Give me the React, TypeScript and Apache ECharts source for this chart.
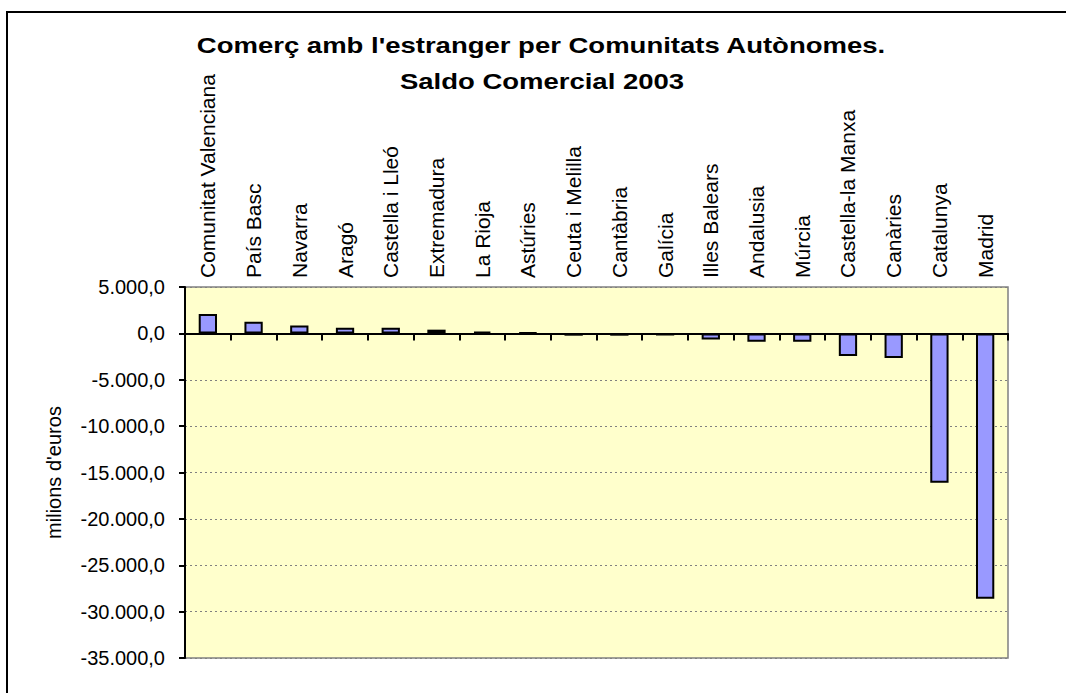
import React, { useEffect, useRef } from "react";
import * as echarts from "echarts";

const categories = [
  "Comunitat Valenciana",
  "País Basc",
  "Navarra",
  "Aragó",
  "Castella i Lleó",
  "Extremadura",
  "La Rioja",
  "Astúries",
  "Ceuta i Melilla",
  "Cantàbria",
  "Galícia",
  "Illes Balears",
  "Andalusia",
  "Múrcia",
  "Castella-la Manxa",
  "Canàries",
  "Catalunya",
  "Madrid",
];

const saldo = [
  2100, 1260, 860, 610, 600, 400, 200, 80, -250, -250, -230, -650, -900, -900,
  -2450, -2650, -16100, -28600,
];

const yTicks = [5000, 0, -5000, -10000, -15000, -20000, -25000, -30000, -35000];

const titleLines = [
  "Comerç amb l'estranger per Comunitats Autònomes.",
  "Saldo Comercial 2003",
];

const yAxisName = "milions d'euros";

function fmt(v: number): string {
  const s = Math.abs(v)
    .toString()
    .replace(/\B(?=(\d{3})+(?!\d))/g, ".");
  return (v < 0 ? "-" : "") + s + ",0";
}

export default function App() {
  const ref = useRef<HTMLDivElement>(null);

  useEffect(() => {
    if (!ref.current) return;
    const chart = echarts.init(ref.current, null, { renderer: "svg" });
    const font = "'Liberation Sans', Arial, sans-serif";
    const yMax = Math.max(...yTicks);
    const yMin = Math.min(...yTicks);
    const step = yTicks[0] - yTicks[1];

    chart.setOption({
      animation: false,
      backgroundColor: "#ffffff",
      graphic: [
        {
          type: "rect",
          shape: { x: 7, y: 12, width: 1100, height: 720 },
          style: { fill: "none", stroke: "#000000", lineWidth: 2 },
          silent: true,
          z: 0,
        },
        {
          type: "text",
          x: 541,
          y: 45,
          scaleX: 1.25,
          style: {
            text: titleLines[0],
            font: "bold 22px " + font,
            fill: "#000000",
            textAlign: "center",
            textVerticalAlign: "middle",
          },
          z: 10,
        },
        {
          type: "text",
          x: 542,
          y: 81,
          scaleX: 1.25,
          style: {
            text: titleLines[1],
            font: "bold 22px " + font,
            fill: "#000000",
            textAlign: "center",
            textVerticalAlign: "middle",
          },
          z: 10,
        },
      ],
      grid: {
        left: 185,
        right: 58,
        top: 287,
        bottom: 35,
        show: true,
        backgroundColor: "#FFFFCC",
        borderColor: "#808080",
        borderWidth: 1.5,
        containLabel: false,
      },
      xAxis: [
        {
          type: "category",
          data: categories,
          position: "bottom",
          boundaryGap: true,
          axisLine: {
            show: true,
            onZero: true,
            lineStyle: { color: "#000000", width: 2 },
          },
          axisTick: {
            show: true,
            interval: 0,
            length: 7,
            lineStyle: { color: "#000000", width: 2 },
          },
          axisLabel: { show: false, interval: 0 },
          splitLine: { show: false },
          z: 5,
        },
        {
          type: "category",
          data: categories,
          position: "top",
          boundaryGap: true,
          axisLine: { show: false, onZero: false },
          axisTick: { show: false },
          axisLabel: {
            show: true,
            interval: 0,
            rotate: -90,
            margin: 9,
            color: "#000000",
            fontFamily: font,
            fontSize: 21,
          },
          splitLine: { show: false },
        },
      ],
      yAxis: {
        type: "value",
        min: yMin,
        max: yMax,
        interval: step,
        name: yAxisName,
        nameLocation: "middle",
        nameGap: 121,
        nameRotate: 90,
        nameTextStyle: { color: "#000000", fontFamily: font, fontSize: 20 },
        axisLine: { show: true, lineStyle: { color: "#000000", width: 2 } },
        axisTick: { show: true, length: 6, lineStyle: { color: "#000000", width: 2 } },
        axisLabel: {
          color: "#000000",
          fontFamily: font,
          fontSize: 20,
          margin: 20,
          formatter: (v: number) => fmt(v),
        },
        splitLine: {
          show: true,
          lineStyle: { color: "#808080", type: [2, 3], width: 1 },
        },
      },
      series: [
        {
          type: "bar",
          data: saldo,
          xAxisIndex: 0,
          yAxisIndex: 0,
          barCategoryGap: "60%",
          itemStyle: {
            color: "#9999FF",
            borderColor: "#000000",
            borderWidth: 2,
          },
          z: 3,
        },
      ],
    });

    return () => {
      chart.dispose();
    };
  }, []);

  return (
    <div
      ref={ref}
      style={{ position: "absolute", left: 0, top: 0, width: 1066, height: 693 }}
    />
  );
}
